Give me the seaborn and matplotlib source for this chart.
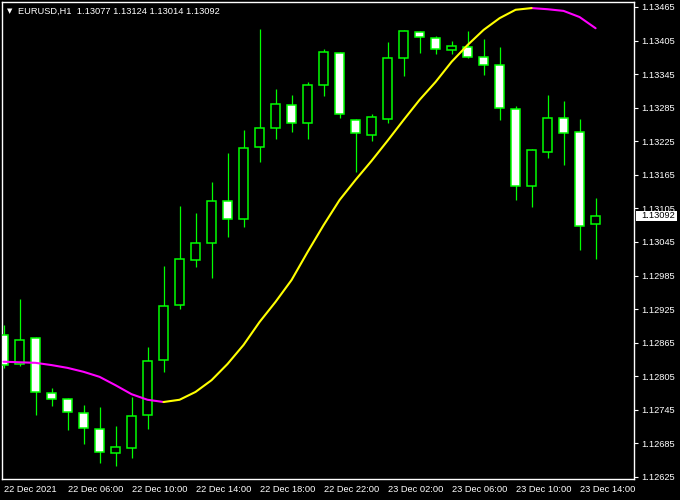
import numpy as np
import pandas as pd
import matplotlib
matplotlib.use('Agg')
import matplotlib.pyplot as plt
from matplotlib.patches import Rectangle
import seaborn as sns

# EURUSD H1 candles, 22 Dec 2021 02:00 .. 23 Dec 2021 15:00
opens = [1.12879, 1.12827, 1.12873, 1.12775, 1.12764, 1.12739, 1.12711, 1.12668,
         1.12677, 1.12736, 1.12834, 1.12932, 1.13013, 1.13043, 1.13118, 1.13086,
         1.13215, 1.13249, 1.13290, 1.13258, 1.13326, 1.13383, 1.13263, 1.13236,
         1.13265, 1.13374, 1.13420, 1.13410, 1.13388, 1.13394, 1.13376, 1.13361,
         1.13283, 1.13145, 1.13206, 1.13267, 1.13242, 1.13077]
highs = [1.12897, 1.12943, 1.12875, 1.12784, 1.12766, 1.12754, 1.12750, 1.12716,
         1.12768, 1.12857, 1.13002, 1.13109, 1.13097, 1.13152, 1.13204, 1.13245,
         1.13426, 1.13318, 1.13308, 1.13331, 1.13390, 1.13385, 1.13265, 1.13274,
         1.13402, 1.13424, 1.13422, 1.13413, 1.13404, 1.13422, 1.13408, 1.13394,
         1.13288, 1.13211, 1.13308, 1.13297, 1.13265, 1.13124]
lows = [1.12820, 1.12823, 1.12736, 1.12752, 1.12709, 1.12684, 1.12650, 1.12645,
        1.12659, 1.12711, 1.12813, 1.12925, 1.13000, 1.12981, 1.13054, 1.13072,
        1.13188, 1.13229, 1.13242, 1.13229, 1.13306, 1.13267, 1.13170, 1.13226,
        1.13258, 1.13342, 1.13383, 1.13381, 1.13381, 1.13374, 1.13343, 1.13263,
        1.13120, 1.13108, 1.13195, 1.13183, 1.13031, 1.13014]
closes = [1.12825, 1.12870, 1.12777, 1.12764, 1.12741, 1.12713, 1.12670, 1.12679,
          1.12734, 1.12832, 1.12931, 1.13015, 1.13043, 1.13118, 1.13086, 1.13213,
          1.13249, 1.13292, 1.13258, 1.13326, 1.13385, 1.13274, 1.13240, 1.13268,
          1.13374, 1.13422, 1.13411, 1.13390, 1.13395, 1.13376, 1.13361, 1.13285,
          1.13145, 1.13209, 1.13267, 1.13240, 1.13074, 1.13092]

# smoothed moving average (yellow rising, magenta falling)
ma = [1.12831, 1.12830, 1.12829, 1.12825, 1.12820, 1.12813, 1.12804, 1.12789,
      1.12773, 1.12763, 1.12759, 1.12763, 1.12777, 1.12798, 1.12827, 1.12861,
      1.12902, 1.12938, 1.12977, 1.13027, 1.13075, 1.13120, 1.13156, 1.13190,
      1.13226, 1.13263, 1.13299, 1.13331, 1.13367, 1.13397, 1.13424, 1.13445,
      1.13460, 1.13463, 1.13461, 1.13458, 1.13447, 1.13427]

x_tick_labels = ['22 Dec 2021', '22 Dec 06:00', '22 Dec 10:00', '22 Dec 14:00',
                 '22 Dec 18:00', '22 Dec 22:00', '23 Dec 02:00', '23 Dec 06:00',
                 '23 Dec 10:00', '23 Dec 14:00']
y_ticks = [1.12625, 1.12685, 1.12745, 1.12805, 1.12865, 1.12925, 1.12985, 1.13045,
           1.13105, 1.13165, 1.13225, 1.13285, 1.13345, 1.13405, 1.13465]
last_price = 1.13092
header = 'EURUSD,H1  1.13077 1.13124 1.13014 1.13092'

GREEN = '#00ff00'

sns.set_style('dark', {'axes.facecolor': 'black', 'figure.facecolor': 'black',
                       'axes.edgecolor': 'white', 'axes.grid': False,
                       'xtick.color': 'white', 'ytick.color': 'white',
                       'text.color': 'white'})
plt.rcParams['font.family'] = ['Liberation Sans', 'DejaVu Sans']

W, H = 680, 500
fig = plt.figure(figsize=(W / 100, H / 100), dpi=100)
ax = fig.add_axes([2 / W, 21 / H, 632 / W, 477 / H])

# candles
for i, (o, h, l, c) in enumerate(zip(opens, highs, lows, closes)):
    ax.vlines(i, l, h, color=GREEN, lw=0.9, zorder=2)
    face = 'white' if c < o else 'black'
    ax.add_patch(Rectangle((i - 0.29, min(o, c)), 0.58, abs(c - o),
                           facecolor=face, edgecolor=GREEN, lw=1.1, zorder=3))

# moving average split into rising / falling runs
rows = []
run, prev = 0, None
for i in range(len(ma) - 1):
    d = 'up' if ma[i + 1] > ma[i] else 'down'
    if d != prev:
        run += 1
        prev = d
        rows.append((run, d, i, ma[i]))
    rows.append((run, d, i + 1, ma[i + 1]))
ma_df = pd.DataFrame(rows, columns=['run', 'dir', 'bar', 'ma'])
sns.lineplot(data=ma_df, x='bar', y='ma', hue='dir', units='run', estimator=None,
             palette={'up': '#ffff00', 'down': '#ff00ff'}, lw=1.5, sort=False,
             legend=False, ax=ax, zorder=4)

ax.set_xlim(-0.094, 39.4)
ax.set_ylim(1.126214, 1.134739)
ax.set_xlabel('')
ax.set_ylabel('')

ax.set_xticks(np.arange(0, len(opens), 4))
ax.set_xticklabels(x_tick_labels, ha='left')
ax.yaxis.tick_right()
ax.set_yticks(y_ticks)
ax.set_yticklabels([f'{v:.5f}' for v in y_ticks])
ax.tick_params(axis='x', length=3, width=0.8, pad=1.5, labelsize=6.7, colors='white')
ax.tick_params(axis='y', length=3, width=0.8, pad=2, labelsize=6.7, colors='white')
for s in ax.spines.values():
    s.set_color('white')
    s.set_linewidth(1)

# header and current price marker (covers part of the 1.13105 label, as in MT4)
fig.text(10 / W, 1 - 11 / H, '\u25bc', fontsize=5, ha='center', va='center',
         family=['DejaVu Sans'], color='white')
fig.text(18 / W, 1 - 11 / H, header, fontsize=6.7, va='center', color='white')
fig.add_artist(Rectangle((636 / W, 1 - 221 / H), 41 / W, 10 / H,
                         transform=fig.transFigure, facecolor='white',
                         edgecolor='none', zorder=5))
fig.text(641 / W, 1 - 216 / H, f'{last_price:.5f}', fontsize=6.7, va='center',
         color='black', zorder=6)

fig.savefig('out.png', dpi=100, facecolor='black')
